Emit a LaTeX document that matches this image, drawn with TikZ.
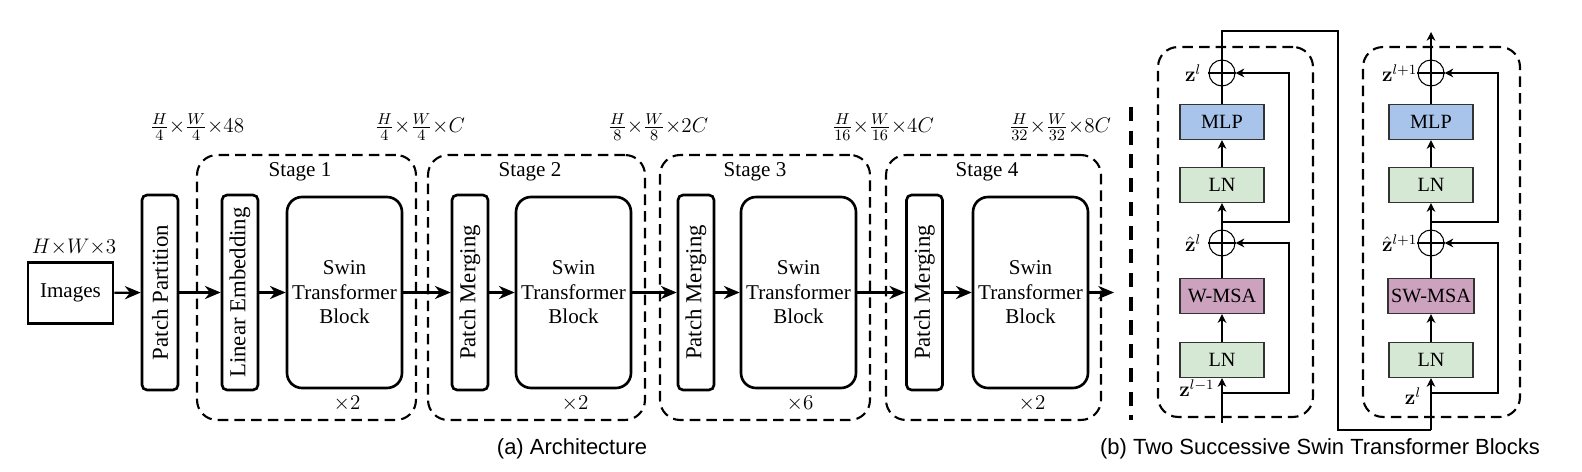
\documentclass[tikz,border=0pt]{standalone}
\usepackage{amsmath}
\usepackage{amssymb}
\usepackage[no-math]{fontspec}
\setmainfont{Liberation Serif}
\newfontfamily\capfont{Liberation Sans}
\usetikzlibrary{arrows.meta, positioning}

\definecolor{lngreen}{HTML}{D5E8D4}
\definecolor{mlpblue}{HTML}{A9C4EB}
\definecolor{msapink}{HTML}{CDA2BE}

\begin{document}
\begin{tikzpicture}[x=0.02cm, y=-0.02cm, font=\fontsize{12}{14}\selectfont]
		\tikzstyle{imgbox} = [rectangle, minimum width=1.7cm, minimum height=1.22cm, draw=black, line width=1.5pt]
		
		\tikzstyle{thinbox} = [rectangle, rotate=90, rounded corners=0.1cm, minimum width=3.9cm, minimum height=0.72cm, inner sep=0pt, draw=black, line width=1.5pt, font=\fontsize{13}{15}\selectfont]
		
		\tikzstyle{swin} = [rectangle, rounded corners=0.3cm, minimum width=2.3cm, minimum height=3.82cm, inner sep=0pt, text centered, align=center, draw=black, line width=1.5pt]
		
		\tikzstyle{stagebox} = [rectangle, rounded corners=0.4cm, minimum height=5.3cm, draw=black, line width=1.2pt, dash pattern=on 6pt off 3.5pt]
		
		\tikzstyle{layer} = [rectangle, minimum width=1.68cm, minimum height=0.7cm, inner sep=0pt, draw=black!80, line width=0.7pt, font=\fontsize{11.5}{13}\selectfont]
		
		\tikzstyle{plus} = [circle, minimum size=0.52cm, inner sep=0pt, draw=black, line width=0.6pt]
		
		\tikzstyle{zlabel} = [font=\fontsize{11.5}{13}\selectfont, inner sep=1pt]
		
		\tikzstyle{dims} = [font=\fontsize{13}{15}\selectfont]
		
		\tikzstyle{arrow} = [-{Stealth[length=9pt, width=7.5pt]}, line width=1.3pt]
		
		\tikzstyle{sarrow} = [-{Stealth[length=5pt, width=5pt]}, line width=0.6pt]
		
		\useasboundingbox (0,0) rectangle (1582,472);
		
		% Input and patch partition
		\node (img) [imgbox] at (70.5,293) {Images};
		\node (dimin) [dims] at (74,247) {$H{\times}W{\times}3$};
		\node (pp) [thinbox] at (160,292.5) {Patch Partition};
		
		% Stage containers
		\node (stage1) [stagebox, minimum width=4.38cm] at (306.5,287.5) {};
		\node (stage2) [stagebox, minimum width=4.34cm] at (536.5,287.5) {};
		\node (stage3) [stagebox, minimum width=4.2cm] at (765,287.5) {};
		\node (stage4) [stagebox, minimum width=4.3cm] at (993.5,287.5) {};
		\node (st1) at (300,172) {Stage 1};
		\node (st2) at (530,172) {Stage 2};
		\node (st3) at (755,172) {Stage 3};
		\node (st4) at (987,172) {Stage 4};
		
		% Stage contents
		\node (le) [thinbox] at (240,292.5) {Linear Embedding};
		\node (swin1) [swin] at (344.5,292.5) {Swin\\Transformer\\Block};
		\node (pm2) [thinbox] at (470,292.5) {Patch Merging};
		\node (swin2) [swin] at (573.5,292.5) {Swin\\Transformer\\Block};
		\node (pm3) [thinbox] at (696,292.5) {Patch Merging};
		\node (swin3) [swin] at (798.5,292.5) {Swin\\Transformer\\Block};
		\node (pm4) [thinbox] at (924.5,292.5) {Patch Merging};
		\node (swin4) [swin] at (1030.5,292.5) {Swin\\Transformer\\Block};
		\coordinate (out) at (1114,292.5);
		
		% Repeats
		\node (rep1) at (347,404) {${\times}2$};
		\node (rep2) at (575,404) {${\times}2$};
		\node (rep3) at (800,404) {${\times}6$};
		\node (rep4) at (1032,404) {${\times}2$};
		
		% Feature sizes
		\node (dim0) [dims] at (197,127) {$\frac{H}{4}{\times}\frac{W}{4}{\times}48$};
		\node (dim1) [dims] at (420,127) {$\frac{H}{4}{\times}\frac{W}{4}{\times}C$};
		\node (dim2) [dims] at (658,127) {$\frac{H}{8}{\times}\frac{W}{8}{\times}2C$};
		\node (dim3) [dims] at (883,127) {$\frac{H}{16}{\times}\frac{W}{16}{\times}4C$};
		\node (dim4) [dims] at (1060,127) {$\frac{H}{32}{\times}\frac{W}{32}{\times}8C$};
		
		% Arrows
		\draw [arrow] (img) -- (pp);
		\draw [arrow] (pp) -- (le);
		\draw [arrow] (le) -- (swin1);
		\draw [arrow] (swin1) -- (pm2);
		\draw [arrow] (pm2) -- (swin2);
		\draw [arrow] (swin2) -- (pm3);
		\draw [arrow] (pm3) -- (swin3);
		\draw [arrow] (swin3) -- (pm4);
		\draw [arrow] (pm4) -- (swin4);
		\draw [arrow] (swin4) -- (out);
		
		% Separator
		\draw [line width=2.3pt, dash pattern=on 8pt off 5.5pt] (1131,107) -- (1131,420);
		
		% First block (W-MSA)
		\node (blk1) [stagebox, minimum width=3.1cm, minimum height=7.4cm] at (1235.5,232) {};
		\node (ln1a) [layer, fill=lngreen] at (1222,360) {LN};
		\node (msa1) [layer, fill=msapink] at (1222,296) {W-MSA};
		\node (add1a) [plus] at (1222,243) {};
		\node (ln1b) [layer, fill=lngreen] at (1222,185) {LN};
		\node (mlp1) [layer, fill=mlpblue] at (1222,122) {MLP};
		\node (add1b) [plus] at (1222,73) {};
		\coordinate (in1) at (1222,423);
		\coordinate (br1a) at (1222,393);
		\coordinate (br1b) at (1222,222);
		\coordinate (top1) at (1222,31);
		\coordinate (turn1) at (1338,31);
		\coordinate (turn2) at (1338,430);
		
		% Second block (SW-MSA)
		\node (blk2) [stagebox, minimum width=3.14cm, minimum height=7.4cm] at (1441.5,232) {};
		\node (ln2a) [layer, fill=lngreen] at (1431,360) {LN};
		\node (msa2) [layer, fill=msapink, minimum width=1.72cm] at (1431,296) {SW-MSA};
		\node (add2a) [plus] at (1431,243) {};
		\node (ln2b) [layer, fill=lngreen] at (1431,185) {LN};
		\node (mlp2) [layer, fill=mlpblue] at (1431,122) {MLP};
		\node (add2b) [plus] at (1431,73) {};
		\coordinate (in2) at (1431,430);
		\coordinate (br2a) at (1431,393);
		\coordinate (br2b) at (1431,222);
		\coordinate (out2) at (1431,32);
		
		% Block connectors
		\draw [sarrow] (in1) -- (ln1a);
		\draw [sarrow, line width=1pt] (ln1a) -- (msa1);
		\draw [sarrow] (msa1) -- (ln1b);
		\draw [sarrow] (ln1b) -- (mlp1);
		\draw [line width=0.6pt] (mlp1) -- (top1) -- (turn1) -- (turn2) -- (in2);
		\draw [sarrow] (br1a) -- ++(67,0) |- (add1a.east);
		\draw [sarrow] (br1b) -- ++(67,0) |- (add1b.east);
		\draw [line width=0.6pt] (add1a.west) -- (add1a.east);
		\draw [line width=0.6pt] (add1b.west) -- (add1b.east);
		
		\draw [sarrow] (in2) -- (ln2a);
		\draw [sarrow, line width=1pt] (ln2a) -- (msa2);
		\draw [sarrow] (msa2) -- (ln2b);
		\draw [sarrow] (ln2b) -- (mlp2);
		\draw [sarrow] (mlp2) -- (out2);
		\draw [sarrow] (br2a) -- ++(67,0) |- (add2a.east);
		\draw [sarrow] (br2b) -- ++(67,0) |- (add2b.east);
		\draw [line width=0.6pt] (add2a.west) -- (add2a.east);
		\draw [line width=0.6pt] (add2b.west) -- (add2b.east);
		
		% Labels
		\node (z1b) [zlabel, left=3pt of add1b] {$\mathbf{z}^{l}$};
		\node (z1a) [zlabel, left=3pt of add1a] {$\hat{\mathbf{z}}^{l}$};
		\node (z1in) [zlabel] at (1197,388) {$\mathbf{z}^{l-1}$};
		\node (z2b) [zlabel, left=-1pt of add2b] {$\mathbf{z}^{l+1}$};
		\node (z2a) [zlabel, left=-1pt of add2a] {$\hat{\mathbf{z}}^{l+1}$};
		\node (z2in) [zlabel] at (1413,396) {$\mathbf{z}^{l}$};
		
		% Captions
		\node (capa) [font=\capfont\fontsize{12.5}{15}\selectfont] at (572,449) {(a) Architecture};
		\node (capb) [font=\capfont\fontsize{12.5}{15}\selectfont] at (1320,449) {(b) Two Successive Swin Transformer Blocks};
		
\end{tikzpicture}
\end{document}
